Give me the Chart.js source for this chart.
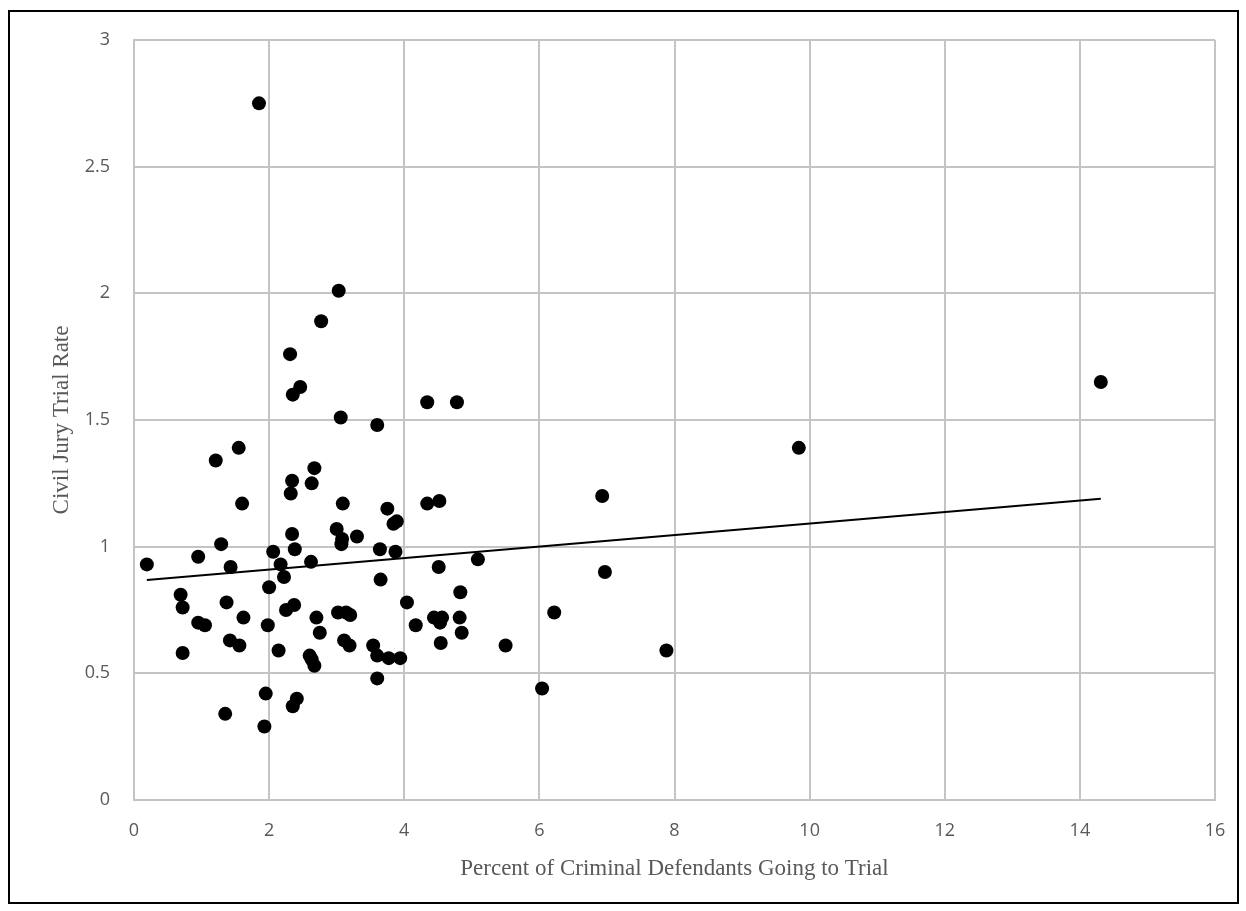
<!DOCTYPE html>
<html>
<head>
<meta charset="utf-8">
<script src="https://cdn.jsdelivr.net/npm/chart.js@4.4.0/dist/chart.umd.min.js"></script>
<style>
  body { margin: 0; background: #fff; }
  #wrap { position: relative; width: 1246px; height: 911px; }
  #frame {
    position: absolute; left: 8px; top: 10px; width: 1231px; height: 894px;
    border: 2px solid #000; box-sizing: border-box; pointer-events: none;
  }
</style>
</head>
<body>
<div id="wrap">
  <canvas id="chart" width="1246" height="911"></canvas>
  <div id="frame"></div>
</div>
<script>
// data
const criminalPct = [
  0.19, 0.69, 0.72, 0.72, 0.95, 0.95, 1.05, 1.21, 1.29, 1.37,
  1.35, 1.42, 1.43, 1.55, 1.56, 1.60, 1.62, 1.85, 1.93, 1.95,
  1.98, 2.00, 2.06, 2.14, 2.17, 2.22, 2.25, 2.31, 2.32, 2.34,
  2.34, 2.35, 2.35, 2.37, 2.38, 2.41, 2.46, 2.60, 2.62, 2.63,
  2.63, 2.67, 2.67, 2.70, 2.75, 2.77, 3.00, 3.02, 3.03, 3.06,
  3.07, 3.08, 3.09, 3.11, 3.14, 3.19, 3.20, 3.30, 3.54, 3.60,
  3.60, 3.60, 3.64, 3.65, 3.75, 3.77, 3.84, 3.87, 3.89, 3.94,
  4.04, 4.17, 4.34, 4.34, 4.44, 4.51, 4.52, 4.53, 4.54, 4.56,
  4.78, 4.82, 4.83, 4.85, 5.09, 5.50, 6.04, 6.22, 6.93, 6.97,
  7.88, 9.84, 14.31
];
const civilRate = [
  0.93, 0.81, 0.76, 0.58, 0.96, 0.70, 0.69, 1.34, 1.01, 0.78,
  0.34, 0.63, 0.92, 1.39, 0.61, 1.17, 0.72, 2.75, 0.29, 0.42,
  0.69, 0.84, 0.98, 0.59, 0.93, 0.88, 0.75, 1.76, 1.21, 1.26,
  1.05, 1.60, 0.37, 0.77, 0.99, 0.40, 1.63, 0.57, 0.94, 1.25,
  0.555, 1.31, 0.53, 0.72, 0.66, 1.89, 1.07, 0.74, 2.01, 1.51,
  1.01, 1.03, 1.17, 0.63, 0.74, 0.61, 0.73, 1.04, 0.61, 1.48,
  0.57, 0.48, 0.99, 0.87, 1.15, 0.56, 1.09, 0.98, 1.10, 0.56,
  0.78, 0.69, 1.57, 1.17, 0.72, 0.92, 1.18, 0.70, 0.62, 0.72,
  1.57, 0.72, 0.82, 0.66, 0.95, 0.61, 0.44, 0.74, 1.20, 0.90,
  0.59, 1.39, 1.65
];

// linear trend line end points
const trendX = [0.19, 14.31];
const trendY = [0.868, 1.189];

const xTicks = [0, 2, 4, 6, 8, 10, 12, 14, 16];
const yTicks = [0, 0.5, 1, 1.5, 2, 2.5, 3];

const points = criminalPct.map((x, i) => ({ x: x, y: civilRate[i] }));
const trend = trendX.map((x, i) => ({ x: x, y: trendY[i] }));

const gridColor = '#c4c4c4';
const textColor = '#595959';

const ctx = document.getElementById('chart').getContext('2d');
new Chart(ctx, {
  type: 'scatter',
  data: {
    datasets: [
      {
        type: 'line',
        label: 'Trend',
        data: trend,
        borderColor: '#000',
        borderWidth: 2,
        pointRadius: 0,
        fill: false
      },
      {
        label: 'Districts',
        data: points,
        backgroundColor: '#000',
        borderColor: '#000',
        borderWidth: 0,
        pointRadius: 7,
        pointHoverRadius: 7
      }
    ]
  },
  options: {
    responsive: false,
    animation: false,
    layout: { padding: { top: 40, right: 31, bottom: 0, left: 0 } },
    plugins: {
      legend: { display: false },
      tooltip: { enabled: false }
    },
    scales: {
      x: {
        type: 'linear',
        min: xTicks[0],
        max: xTicks[xTicks.length - 1],
        afterBuildTicks: (scale) => { scale.ticks = xTicks.map(v => ({ value: v })); },
        afterFit: (scale) => { scale.height = 111; },
        grid: { color: gridColor, lineWidth: 2, drawTicks: false },
        border: { color: gridColor, width: 2 },
        ticks: {
          padding: 20,
          color: textColor,
          font: { family: 'Open Sans', size: 18 },
          callback: (v) => String(v)
        },
        title: {
          display: true,
          text: 'Percent of Criminal Defendants Going to Trial',
          color: textColor,
          font: { family: 'Liberation Serif', size: 23 },
          padding: { top: 0, bottom: 28 }
        }
      },
      y: {
        type: 'linear',
        min: yTicks[0],
        max: yTicks[yTicks.length - 1],
        afterBuildTicks: (scale) => { scale.ticks = yTicks.map(v => ({ value: v })); },
        afterFit: (scale) => { scale.width = 134; },
        grid: { color: gridColor, lineWidth: 2, drawTicks: false },
        border: { color: gridColor, width: 2 },
        ticks: {
          padding: 24,
          color: textColor,
          font: { family: 'Open Sans', size: 18 },
          callback: (v) => String(v)
        },
        title: {
          display: true,
          text: 'Civil Jury Trial Rate',
          color: textColor,
          font: { family: 'Liberation Serif', size: 23 },
          padding: { top: 48, bottom: 0 }
        }
      }
    }
  }
});
</script>
</body>
</html>
